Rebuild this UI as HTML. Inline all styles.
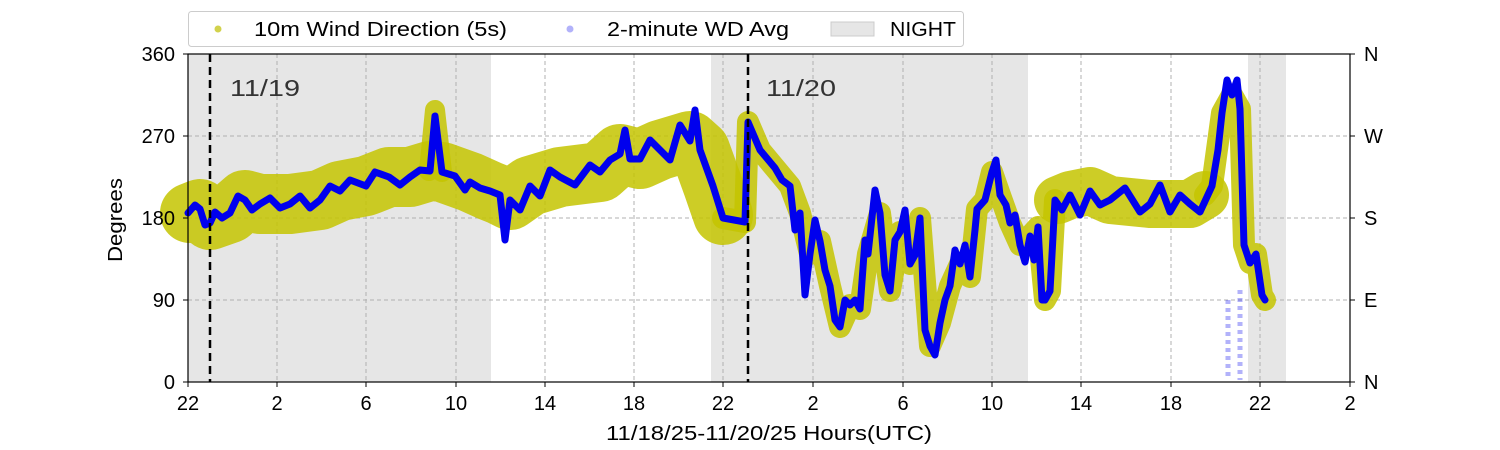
<!DOCTYPE html>
<html><head><meta charset="utf-8"><style>
body{margin:0;background:#fff;}
svg{display:block;font-family:"Liberation Sans","DejaVu Sans",sans-serif;}
</style></head><body>
<svg width="1500" height="450" xmlns="http://www.w3.org/2000/svg">
<rect width="1500" height="450" fill="#fff"/>
<g fill="#e6e6e6">
<rect x="188" y="54" width="303" height="328"/>
<rect x="711" y="54" width="317" height="328"/>
<rect x="1248" y="54" width="38" height="328"/>
</g>
<g stroke="#b0b0b0" stroke-dasharray="4,3" stroke-width="1">
<line x1="277" y1="54" x2="277" y2="382"/><line x1="366" y1="54" x2="366" y2="382"/>
<line x1="456" y1="54" x2="456" y2="382"/><line x1="545" y1="54" x2="545" y2="382"/>
<line x1="634" y1="54" x2="634" y2="382"/><line x1="723" y1="54" x2="723" y2="382"/>
<line x1="813" y1="54" x2="813" y2="382"/><line x1="903" y1="54" x2="903" y2="382"/>
<line x1="992" y1="54" x2="992" y2="382"/><line x1="1081" y1="54" x2="1081" y2="382"/>
<line x1="1171" y1="54" x2="1171" y2="382"/><line x1="1260" y1="54" x2="1260" y2="382"/>
<line x1="188" y1="136" x2="1350" y2="136"/><line x1="188" y1="218" x2="1350" y2="218"/>
<line x1="188" y1="300" x2="1350" y2="300"/>
</g>
<g fill="none" stroke="#c4c400" stroke-opacity="0.85" stroke-linejoin="round" stroke-linecap="round">
<polyline stroke-width="60" points="190,213 200,209 210,220 230,213 245,200 260,204 290,204 320,200 340,191 366,186 389,177 410,177 430,171 442,172 470,182 490,191 500,195 510,200 530,186 560,177 600,172 620,154 640,159 660,150 690,141 700,150 713,186 723,215"/>
<polyline stroke-width="20" points="429,171 435,110 442,172"/>
<polyline stroke-width="22" points="723,218 745,222 748,122 760,150 775,168 790,186 800,213 810,254 820,241 830,286 840,327 850,305 860,309 868,254 880,213 890,291 900,232 910,264 920,218 930,346 940,323 950,286 960,264 970,277 977,209 985,200 992,172 1000,195 1010,223 1020,245 1030,236 1038,227 1045,300 1050,291 1055,200"/>
<polyline stroke-width="48" points="1058,200 1070,195 1090,191 1110,200 1150,204 1190,204 1205,195"/>
<polyline stroke-width="22" points="1205,195 1212,186 1222,113 1232,95 1240,109 1244,245 1250,263 1256,254 1262,295 1265,300"/>
</g>
<polyline fill="none" stroke="#0000ee" stroke-width="7" stroke-linejoin="round" stroke-linecap="round" points="188,213 195,205 200,209 205,225 210,223 215,212 222,218 230,213 238,196 245,200 252,210 260,204 270,198 280,208 290,204 300,196 310,208 320,200 330,186 340,191 350,180 366,186 375,172 389,177 400,185 410,177 420,170 430,171 435,116 442,172 455,176 465,190 470,182 480,188 490,191 500,195 505,240 510,200 520,210 530,186 540,196 550,170 560,177 575,185 590,165 600,172 610,160 620,154 625,130 630,159 640,159 650,140 660,150 670,160 680,125 690,141 695,110 700,150 713,186 723,218 745,222 748,122 760,150 775,168 782,180 790,186 795,230 800,213 805,295 810,254 815,220 820,241 825,270 830,286 835,320 840,327 845,300 850,305 855,300 860,309 865,240 868,254 875,190 880,213 885,275 890,291 895,240 900,232 905,210 910,264 915,255 920,218 925,330 930,346 935,355 940,323 945,300 950,286 955,250 960,264 965,245 970,277 975,230 977,209 985,200 992,172 996,160 1000,195 1006,205 1010,223 1015,215 1020,245 1025,262 1030,236 1034,260 1038,227 1042,300 1045,300 1050,291 1055,200 1062,210 1070,195 1080,215 1090,191 1100,205 1110,200 1125,188 1140,212 1150,204 1160,185 1170,212 1180,195 1190,204 1200,212 1212,186 1218,150 1222,113 1227,80 1232,95 1237,80 1240,109 1244,245 1250,263 1256,254 1262,295 1265,300"/>
<g stroke="#0000ee" stroke-opacity="0.3" stroke-width="5" stroke-dasharray="4,4">
<line x1="1228" y1="300" x2="1228" y2="380"/><line x1="1240" y1="290" x2="1240" y2="380"/>
</g>
<g stroke="#000" stroke-width="2.5" stroke-dasharray="8,5">
<line x1="210" y1="54" x2="210" y2="382"/><line x1="748" y1="54" x2="748" y2="382"/>
</g>
<text x="230" y="96" font-size="23" fill="#333" textLength="70" lengthAdjust="spacingAndGlyphs">11/19</text>
<text x="766" y="96" font-size="23" fill="#333" textLength="70" lengthAdjust="spacingAndGlyphs">11/20</text>
<rect x="188" y="54" width="1162" height="328" fill="none" stroke="#000" stroke-width="1.2"/>
<g stroke="#000" stroke-width="1">
<line x1="188" y1="382" x2="188" y2="387"/><line x1="277" y1="382" x2="277" y2="387"/><line x1="366" y1="382" x2="366" y2="387"/><line x1="456" y1="382" x2="456" y2="387"/><line x1="545" y1="382" x2="545" y2="387"/><line x1="634" y1="382" x2="634" y2="387"/><line x1="723" y1="382" x2="723" y2="387"/><line x1="813" y1="382" x2="813" y2="387"/><line x1="903" y1="382" x2="903" y2="387"/><line x1="992" y1="382" x2="992" y2="387"/><line x1="1081" y1="382" x2="1081" y2="387"/><line x1="1171" y1="382" x2="1171" y2="387"/><line x1="1260" y1="382" x2="1260" y2="387"/><line x1="1350" y1="382" x2="1350" y2="387"/>
<line x1="183" y1="54" x2="188" y2="54"/><line x1="183" y1="136" x2="188" y2="136"/><line x1="183" y1="218" x2="188" y2="218"/><line x1="183" y1="300" x2="188" y2="300"/><line x1="183" y1="382" x2="188" y2="382"/>
<line x1="1350" y1="54" x2="1355" y2="54"/><line x1="1350" y1="136" x2="1355" y2="136"/><line x1="1350" y1="218" x2="1355" y2="218"/><line x1="1350" y1="300" x2="1355" y2="300"/><line x1="1350" y1="382" x2="1355" y2="382"/>
</g>
<g font-size="20" fill="#000" text-anchor="middle">
<text x="188" y="410">22</text><text x="277" y="410">2</text><text x="366" y="410">6</text><text x="456" y="410">10</text><text x="545" y="410">14</text><text x="634" y="410">18</text><text x="723" y="410">22</text><text x="813" y="410">2</text><text x="903" y="410">6</text><text x="992" y="410">10</text><text x="1081" y="410">14</text><text x="1171" y="410">18</text><text x="1260" y="410">22</text><text x="1350" y="410">2</text>
<text x="769" y="440" textLength="326" lengthAdjust="spacingAndGlyphs">11/18/25-11/20/25  Hours(UTC)</text>
</g>
<g font-size="20" fill="#000" text-anchor="end">
<text x="175" y="61">360</text><text x="175" y="143">270</text><text x="175" y="225">180</text><text x="175" y="307">90</text><text x="175" y="389">0</text>
</g>
<g font-size="20" fill="#000">
<text x="1364" y="61">N</text><text x="1364" y="143">W</text><text x="1364" y="225">S</text><text x="1364" y="307">E</text><text x="1364" y="389">N</text>
</g>
<text transform="translate(122,220) rotate(-90)" font-size="20" text-anchor="middle" textLength="84" lengthAdjust="spacingAndGlyphs">Degrees</text>
<rect x="188.5" y="11.5" width="775" height="35" rx="3" fill="#fff" stroke="#ccc"/>
<circle cx="218" cy="29" r="3.5" fill="#bfbf00" fill-opacity="0.7"/>
<circle cx="570" cy="29" r="3.5" fill="#0000ee" fill-opacity="0.3"/>
<rect x="831" y="22" width="43" height="14" fill="#e6e6e6" stroke="#ccc"/>
<g font-size="20"><text x="254" y="36" textLength="253" lengthAdjust="spacingAndGlyphs">10m Wind Direction (5s)</text><text x="607" y="36" textLength="182" lengthAdjust="spacingAndGlyphs">2-minute WD Avg</text><text x="890" y="36" textLength="66" lengthAdjust="spacingAndGlyphs">NIGHT</text></g>
</svg>
</body></html>
